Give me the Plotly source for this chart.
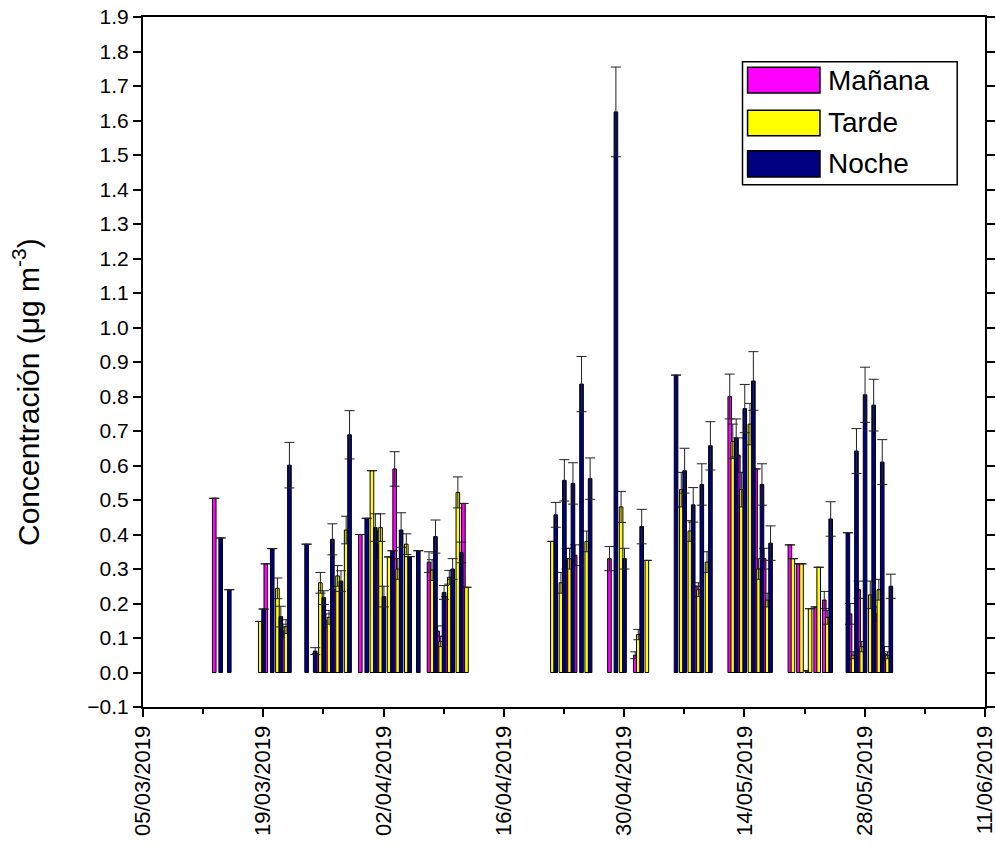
import pandas as pd
import plotly.graph_objects as go

# --- Datos por jornada (fecha, concentración, desviación) ---
manana_fechas = ["2019-03-13", "2019-03-19", "2019-03-21", "2019-03-25", "2019-03-26", "2019-03-27",
                 "2019-03-30", "2019-04-01", "2019-04-03", "2019-04-07", "2019-04-08", "2019-04-09",
                 "2019-04-11", "2019-04-23", "2019-04-24", "2019-04-28", "2019-05-01", "2019-05-08",
                 "2019-05-12", "2019-05-13", "2019-05-15", "2019-05-16", "2019-05-19", "2019-05-20",
                 "2019-05-21", "2019-05-22", "2019-05-23", "2019-05-26", "2019-05-27", "2019-05-29",
                 "2019-05-30"]
manana_valores = [0.505, 0.315, 0.12, 0.055, 0.15, 0.24,
                  0.40, 0.37, 0.59, 0.32, 0.12, 0.22,
                  0.49, 0.33, 0.34, 0.33, 0.05, 0.25,
                  0.80, 0.63, 0.59, 0.33, 0.37, 0.315,
                  0.005, 0.19, 0.21, 0.17, 0.24, 0.17,
                  0.055]
manana_error = [0, 0, 0.02, 0, 0.02, 0,
                0, 0.04, 0.05, 0.03, 0.015, 0,
                0, 0.03, 0.03, 0.035, 0.01, 0,
                0.065, 0.05, 0, 0.03, 0, 0,
                0, 0, 0.025, 0.03, 0.025, 0.02,
                0.02]

tarde_fechas = ["2019-03-18", "2019-03-20", "2019-03-21", "2019-03-25", "2019-03-26", "2019-03-27",
                "2019-03-28", "2019-03-31", "2019-04-01", "2019-04-02", "2019-04-03", "2019-04-04",
                "2019-04-07", "2019-04-08", "2019-04-09", "2019-04-10", "2019-04-11", "2019-04-21",
                "2019-04-22", "2019-04-23", "2019-04-25", "2019-04-29", "2019-05-01", "2019-05-02",
                "2019-05-06", "2019-05-07", "2019-05-08", "2019-05-09", "2019-05-12", "2019-05-13",
                "2019-05-14", "2019-05-15", "2019-05-16", "2019-05-19", "2019-05-20", "2019-05-21",
                "2019-05-22", "2019-05-23", "2019-05-26", "2019-05-27", "2019-05-28", "2019-05-29",
                "2019-05-30"]
tarde_valores = [0.148, 0.244, 0.133, 0.26, 0.16, 0.28,
                 0.413, 0.585, 0.42, 0.335, 0.30, 0.372,
                 0.297, 0.09, 0.276, 0.522, 0.247, 0.38,
                 0.26, 0.33, 0.38, 0.48, 0.11, 0.325,
                 0.53, 0.41, 0.24, 0.32, 0.67, 0.53,
                 0.72, 0.30, 0.21, 0.33, 0.315, 0.185,
                 0.305, 0.16, 0.05, 0.075, 0.225, 0.24,
                 0.05]
tarde_error = [0, 0.03, 0.02, 0.03, 0.02, 0.03,
               0.04, 0, 0.04, 0, 0.03, 0.03,
               0.03, 0.015, 0.02, 0.045, 0, 0,
               0.03, 0.03, 0.03, 0.045, 0.015, 0,
               0.05, 0.03, 0.02, 0.03, 0.05, 0.05,
               0.06, 0.03, 0.02, 0, 0, 0,
               0, 0.02, 0.01, 0.015, 0.04, 0.03,
               0.01]

noche_fechas = ["2019-03-13", "2019-03-14", "2019-03-18", "2019-03-19", "2019-03-20", "2019-03-21",
                "2019-03-23", "2019-03-24", "2019-03-25", "2019-03-26", "2019-03-27", "2019-03-28",
                "2019-03-30", "2019-03-31", "2019-04-01", "2019-04-02", "2019-04-03", "2019-04-04",
                "2019-04-05", "2019-04-07", "2019-04-08", "2019-04-09", "2019-04-10", "2019-04-21",
                "2019-04-22", "2019-04-23", "2019-04-24", "2019-04-25", "2019-04-28", "2019-04-29",
                "2019-05-01", "2019-05-05", "2019-05-06", "2019-05-07", "2019-05-08", "2019-05-09",
                "2019-05-12", "2019-05-13", "2019-05-14", "2019-05-15", "2019-05-16", "2019-05-23",
                "2019-05-25", "2019-05-26", "2019-05-27", "2019-05-28", "2019-05-29", "2019-05-30"]
noche_valores = [0.39, 0.24, 0.184, 0.359, 0.162, 0.601,
                 0.372, 0.062, 0.217, 0.386, 0.265, 0.689,
                 0.447, 0.42, 0.22, 0.353, 0.413, 0.336,
                 0.353, 0.394, 0.232, 0.30, 0.348, 0.457,
                 0.557, 0.548, 0.836, 0.562, 1.625, 0.33,
                 0.423, 0.862, 0.585, 0.486, 0.545, 0.657,
                 0.68, 0.765, 0.845, 0.545, 0.375, 0.445,
                 0.405, 0.642, 0.805, 0.775, 0.61, 0.25]
noche_error = [0, 0, 0, 0, 0.03, 0.066,
               0, 0.01, 0.02, 0.045, 0.03, 0.07,
               0, 0.04, 0.03, 0, 0.05, 0,
               0, 0.048, 0.02, 0.03, 0.03, 0.036,
               0.06, 0.06, 0.08, 0.06, 0.13, 0.03,
               0.05, 0, 0.065, 0.05, 0.06, 0.07,
               0.055, 0.07, 0.085, 0.06, 0.05, 0.05,
               0, 0.065, 0.08, 0.075, 0.065, 0.035]

series = [
    ("Mañana", manana_fechas, manana_valores, manana_error, "#FF00FF", 7),
    ("Tarde", tarde_fechas, tarde_valores, tarde_error, "#FFFF00", 15.5),
    ("Noche", noche_fechas, noche_valores, noche_error, "#000080", 25),
]

ancho_barra_ms = 0.42 * 86400000

fig = go.Figure()
for nombre, fechas, valores, errores, color, hora in series:
    x = (pd.to_datetime(fechas) + pd.Timedelta(hours=hora)).strftime("%Y-%m-%d %H:%M")
    fig.add_trace(go.Bar(
        x=list(x), y=valores, name=nombre, width=ancho_barra_ms,
        marker=dict(color=color, line=dict(color="black", width=1)),
        error_y=dict(type="data", array=[e if e > 0 else None for e in errores],
                     visible=True, color="#222222", thickness=1, width=5),
        showlegend=False,
    ))

fuente = "Arial, 'Liberation Sans', sans-serif"

fig.update_layout(
    width=996, height=857,
    paper_bgcolor="white", plot_bgcolor="white",
    margin=dict(l=143, r=11, t=17, b=150),
    barmode="overlay",
    font=dict(family=fuente, color="black"),
    xaxis=dict(
        type="date",
        range=["2019-03-05", "2019-06-11 00:02"],
        tickmode="linear", tick0="2019-03-05", dtick=14 * 86400000,
        tickformat="%d/%m/%Y", tickangle=-90,
        tickfont=dict(size=22, family=fuente), ticklabeloverflow="allow",
        ticks="outside", ticklen=8, tickwidth=1.5, tickcolor="black",
        minor=dict(dtick=7 * 86400000, tick0="2019-03-05", ticks="outside",
                   ticklen=5, tickwidth=1.5, tickcolor="black"),
        showline=True, linecolor="black", linewidth=2, mirror=True,
        showgrid=False, zeroline=False, automargin=False,
    ),
    yaxis=dict(
        range=[-0.1, 1.9], tickmode="linear", tick0=-0.1, dtick=0.1,
        tickformat=".1f", tickfont=dict(size=21, family=fuente),
        ticks="outside", ticklen=8, tickwidth=1.5, tickcolor="black",
        showline=True, linecolor="black", linewidth=2, mirror="ticks",
        showgrid=False, zeroline=False, automargin=False,
    ),
)

# Título del eje vertical
fig.add_annotation(xref="paper", yref="paper", x=0, y=0.5, xshift=-117, yshift=-30,
                   text="Concentración (μg m<sup>-3</sup>)", textangle=-90, showarrow=False,
                   xanchor="center", yanchor="middle",
                   font=dict(size=30, family=fuente, color="black"))

# Leyenda con muestras grandes
caja = dict(x0=0.712, x1=0.967, y0=0.757, y1=0.935)
fig.add_shape(type="rect", xref="paper", yref="paper", **caja,
              line=dict(color="black", width=1.5), fillcolor="white", layer="above")
filas = [(0.927, 0.890), (0.865, 0.828), (0.806, 0.768)]
for (nombre, _, _, _, color, _), (ya, yb) in zip(series, filas):
    fig.add_shape(type="rect", xref="paper", yref="paper",
                  x0=0.718, x1=0.804, y0=yb, y1=ya,
                  line=dict(color="black", width=1.5), fillcolor=color, layer="above")
    fig.add_annotation(xref="paper", yref="paper", x=0.811, y=(ya + yb) / 2,
                       text=nombre, showarrow=False, xanchor="left", yanchor="middle",
                       font=dict(size=28, family=fuente, color="black"))

fig.write_html("out.html")
